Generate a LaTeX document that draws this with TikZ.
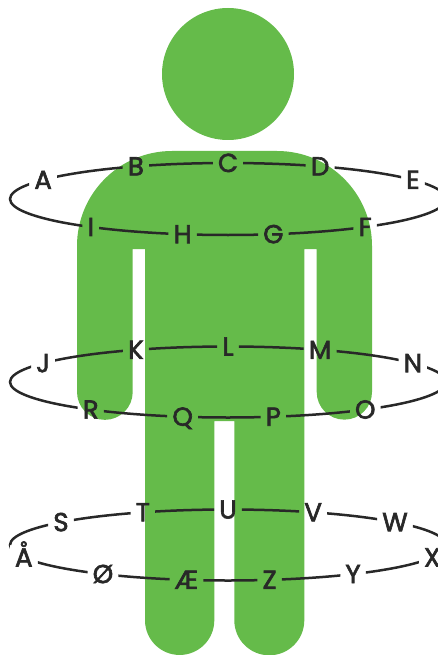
\documentclass[tikz,border=0pt]{standalone}
\usepackage{fontspec}
\newfontfamily\lblfont{Poppins}[FakeBold=2.5]
\definecolor{figgreen}{RGB}{101,187,74}
\definecolor{ink}{RGB}{40,40,40}
\begin{document}
\begin{tikzpicture}[x=1pt,y=-1pt,
  letter/.style={font=\lblfont\fontsize{26}{26}\selectfont, text=ink,
    inner xsep=5pt, inner ysep=3pt, text height=18pt, text depth=0pt, anchor=center},
  ring/.style={draw=ink, line width=2.5pt},
  body/.style={fill=figgreen}]
\useasboundingbox (0,0) rectangle (438,655);
\clip (0,0) rectangle (438,655);
% figure
\fill[body] (228,74) circle (66pt);
\fill[body] (77,392) -- (77,246) arc[start angle=180,end angle=90,radius=95pt]
  -- (277,151) arc[start angle=90,end angle=0,radius=95pt]
  -- (372,392) arc[start angle=0,end angle=-180,radius=27.65pt]
  -- (316.7,249) -- (304.3,249) -- (304.3,620.3) arc[start angle=0,end angle=-180,radius=35pt]
  -- (234.3,421) -- (214.3,421) -- (214.3,620.3) arc[start angle=0,end angle=-180,radius=34.65pt]
  -- (145,249) -- (132.7,249) -- (132.7,392) arc[start angle=0,end angle=-180,radius=27.85pt]
  -- cycle;
% letters on the rings
\foreach \n/\l/\t in {nA/A/148, nB/B/115, nC/C/90, nD/D/65, nE/E/32, nF/F/-51, nG/G/-78, nH/H/-102, nI/I/-129}
  \path (228,199) ++(\t:218pt and 36pt) node[letter] (\n) {\l};
\foreach \n/\l/\t in {nJ/J/148, nK/K/115, nL/L/90, nM/M/65, nN/N/32, nO/O/-51, nP/P/-78, nQ/Q/-102, nR/R/-129}
  \path (228,382) ++(\t:218pt and 35.5pt) node[letter] (\n) {\l};
\foreach \n/\l/\t in {nS/S/140, nT/T/113, nU/U/90, nV/V/67, nW/W/40, nX/X/-20.5, nY/Y/-55, nZ/Z/-79, nAE/Æ/-101, nOE/Ø/-125, nAA/Å/-159.5}
  \path (228,545) ++(\t:218pt and 35.5pt) node[letter] (\n) {\l};
% rings, broken at the letters
\begin{scope}[even odd rule]
\clip (-10,-10) rectangle (460,670)
  (nA.south west) rectangle (nA.north east) (nB.south west) rectangle (nB.north east)
  (nC.south west) rectangle (nC.north east) (nD.south west) rectangle (nD.north east)
  (nE.south west) rectangle (nE.north east) (nF.south west) rectangle (nF.north east)
  (nG.south west) rectangle (nG.north east) (nH.south west) rectangle (nH.north east)
  (nI.south west) rectangle (nI.north east) (nJ.south west) rectangle (nJ.north east)
  (nK.south west) rectangle (nK.north east) (nL.south west) rectangle (nL.north east)
  (nM.south west) rectangle (nM.north east) (nN.south west) rectangle (nN.north east)
  (nO.south west) rectangle (nO.north east) (nP.south west) rectangle (nP.north east)
  (nQ.south west) rectangle (nQ.north east) (nR.south west) rectangle (nR.north east)
  (nS.south west) rectangle (nS.north east) (nT.south west) rectangle (nT.north east)
  (nU.south west) rectangle (nU.north east) (nV.south west) rectangle (nV.north east)
  (nW.south west) rectangle (nW.north east) (nX.south west) rectangle (nX.north east)
  (nY.south west) rectangle (nY.north east) (nZ.south west) rectangle (nZ.north east)
  (nAE.south west) rectangle (nAE.north east) (nOE.south west) rectangle (nOE.north east)
  (nAA.south west) rectangle (nAA.north east);
\draw[ring] (228,199) ellipse [x radius=218pt, y radius=36pt];
\draw[ring] (228,382) ellipse [x radius=218pt, y radius=35.5pt];
\draw[ring] (228,545) ellipse [x radius=218pt, y radius=35.5pt];
\end{scope}
\end{tikzpicture}
\end{document}
